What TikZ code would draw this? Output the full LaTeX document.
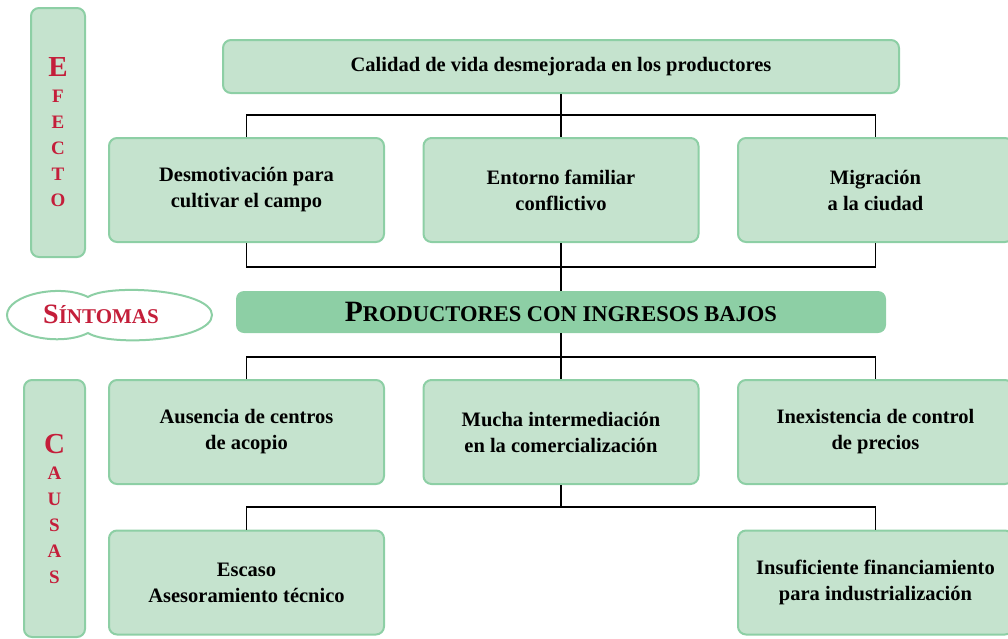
\documentclass[tikz,border=0pt]{standalone}
\usepackage{fontspec}
\setmainfont{Liberation Serif}
\definecolor{hoja}{HTML}{C5E3CE}
\definecolor{borde}{HTML}{8DCFA5}
\definecolor{rojo}{HTML}{C41E3A}
\begin{document}
\begin{tikzpicture}[x=1pt,y=-1pt,
  caja/.style={draw=borde,fill=hoja,line width=2pt,rounded corners=8pt,
    align=center,inner sep=0pt,font=\fontsize{20.5}{26}\selectfont\bfseries},
  lado/.style={caja,text=rojo,font=\fontsize{19}{26}\selectfont\bfseries},
  linea/.style={line width=1.2pt}]
\useasboundingbox (0,0) rectangle (1008,638);
\def\ancho{275pt}
\def\alto{104pt}
% efecto
\node[lado,minimum width=54pt,minimum height=249pt] (efecto) at (58,132.5)
  {{\fontsize{29}{27}\selectfont E}\\F\\E\\C\\T\\O};
\node[caja,minimum width=676pt,minimum height=53pt] (top) at (561,66.5)
  {Calidad de vida desmejorada en los productores};
\node[caja,minimum width=\ancho,minimum height=\alto] (e1) at (246.5,190)
  {Desmotivación para\\cultivar el campo};
\node[caja,minimum width=\ancho,minimum height=\alto] (e2) at (561,190)
  {Entorno familiar\\conflictivo};
\node[caja,minimum width=\ancho,minimum height=\alto] (e3) at (875.5,190)
  {Migración\\a la ciudad};
% sintomas
\draw[draw=borde,line width=2pt,fill=white]
  (7,315) .. controls (7,295) and (60,283) .. (88,297)
  .. controls (110,283) and (212,290) .. (212,315)
  .. controls (212,341) and (110,347) .. (88,333)
  .. controls (60,347) and (7,336) .. (7,315) -- cycle;
\node[text=rojo,inner sep=0pt,font=\bfseries] (sint) at (101,314.5)
  {{\fontsize{28}{28}\selectfont S}{\fontsize{21}{21}\selectfont ÍNTOMAS}};
\node[fill=borde,rounded corners=8pt,minimum width=650pt,minimum height=42pt,
  inner sep=0pt,font=\bfseries] (prod) at (561,312)
  {{\fontsize{29.5}{29.5}\selectfont P}{\fontsize{22.5}{22.5}\selectfont RODUCTORES CON INGRESOS BAJOS}};
% causas
\node[lado,minimum width=61pt,minimum height=257pt] (causas) at (54.5,508.5)
  {{\fontsize{29}{27}\selectfont C}\\A\\U\\S\\A\\S};
\node[caja,minimum width=\ancho,minimum height=\alto] (c1) at (246.5,432)
  {Ausencia de centros\\de acopio};
\node[caja,minimum width=\ancho,minimum height=\alto] (c2) at (561,432)
  {Mucha intermediación\\en la comercialización};
\node[caja,minimum width=\ancho,minimum height=\alto] (c3) at (875.5,432)
  {Inexistencia de control\\de precios};
\node[caja,minimum width=\ancho,minimum height=\alto] (d1) at (246.5,582.5)
  {Escaso\\Asesoramiento técnico};
\node[caja,minimum width=\ancho,minimum height=\alto] (d2) at (875.5,582.5)
  {Insuficiente financiamiento\\para industrialización};
% ramas
\coordinate (ramaA) at (561,115);
\coordinate (ramaB) at (561,267);
\coordinate (ramaC) at (561,357);
\coordinate (ramaD) at (561,507);
\draw[linea] (top.south) -- (e2.north);
\draw[linea] (e1.north) |- (ramaA) -| (e3.north);
\draw[linea] (e1.south) |- (ramaB) -| (e3.south);
\draw[linea] (e2.south) -- (prod.north);
\draw[linea] (prod.south) -- (c2.north);
\draw[linea] (c1.north) |- (ramaC) -| (c3.north);
\draw[linea] (c2.south) -- (ramaD);
\draw[linea] (d1.north) |- (ramaD) -| (d2.north);
\end{tikzpicture}
\end{document}
